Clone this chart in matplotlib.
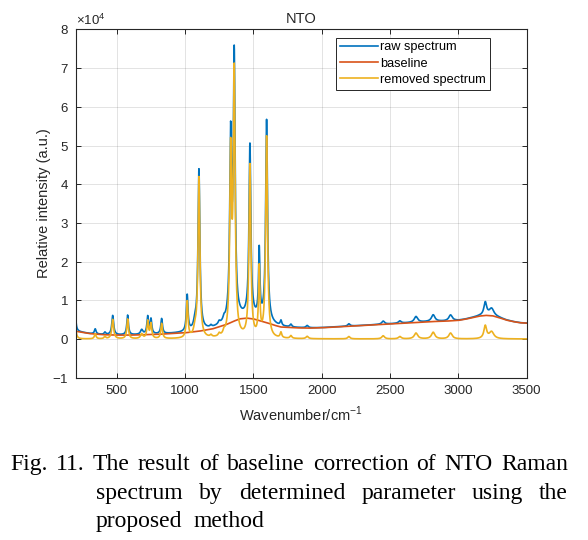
import numpy as np
import matplotlib
matplotlib.use("Agg")
import matplotlib.pyplot as plt
from matplotlib.ticker import ScalarFormatter

# ---------------- data (intensity in a.u.) ----------------
# Raman peaks of the baseline-removed spectrum: centre (cm^-1), height, half width
peak_centers = [195, 343, 414, 471, 580, 683, 727, 751, 829, 1016, 1073, 1102,
                1190, 1250, 1285, 1334, 1360, 1475, 1543, 1597, 1702, 1775,
                1894, 2199, 2450, 2572, 2690, 2816, 2943, 3197, 3243]
peak_heights = [6500, 1300, 600, 5000, 5100, 1200, 4500, 3800, 3900, 9400, 1800, 41500,
                500, 700, 900, 46000, 67000, 44500, 17500, 52000, 1400, 700,
                600, 600, 800, 600, 1500, 1700, 1500, 3300, 1800]
peak_hwhm = [6, 7, 7, 8, 7, 10, 7, 7, 7, 7, 12, 8,
             8, 8, 8, 8, 8, 8, 6, 8, 7, 8,
             10, 10, 12, 12, 15, 15, 15, 12, 20]

# estimated baseline: wavenumber knots and values
baseline_x = [200, 300, 400, 500, 600, 700, 800, 900, 1000, 1100, 1200, 1300, 1350,
              1400, 1450, 1500, 1550, 1600, 1650, 1700, 1800, 1900, 2000, 2100, 2200,
              2300, 2400, 2500, 2600, 2700, 2800, 2900, 3000, 3050, 3100, 3150, 3200,
              3250, 3300, 3350, 3400, 3450, 3500]
baseline_y = [2000, 1400, 1100, 1000, 1000, 1100, 1200, 1400, 1600, 2000, 2600, 3700, 4500,
              5200, 5400, 5200, 4700, 4200, 3600, 3100, 2900, 2800, 2900, 3100, 3300,
              3500, 3700, 3900, 4100, 4300, 4500, 4600, 4800, 5100, 5500, 5900, 6100,
              6000, 5500, 4900, 4500, 4200, 4100]

wavenumber = np.arange(200, 3501, 1.0)
removed = np.zeros_like(wavenumber)
for c, h, g in zip(peak_centers, peak_heights, peak_hwhm):
    removed += h * g**2 / ((wavenumber - c)**2 + g**2)
baseline = np.interp(wavenumber, baseline_x, baseline_y)
raw = removed + baseline

# ---------------- figure ----------------
plt.rcParams['font.family'] = ['Liberation Sans', 'DejaVu Sans']
plt.rcParams['axes.unicode_minus'] = False
plt.rcParams['mathtext.fontset'] = 'custom'
plt.rcParams['mathtext.rm'] = 'Liberation Sans'

fig = plt.figure(figsize=(5.88, 5.40), dpi=100)
ax = fig.add_axes([0.1287, 0.3006, 0.767, 0.6448])

dark = '#262626'
ax.plot(wavenumber, raw, color='#0072BD', lw=1.2, label='raw spectrum')
ax.plot(wavenumber, baseline, color='#D95319', lw=1.2, label='baseline')
ax.plot(wavenumber, removed, color='#EDB120', lw=1.2, label='removed spectrum')

ax.set_xlim(200, 3500)
ax.set_ylim(-10000, 80000)
ax.set_xticks([500, 1000, 1500, 2000, 2500, 3000, 3500])
ax.set_yticks(np.arange(-10000, 80001, 10000))
fmt = ScalarFormatter(useMathText=True)
fmt.set_powerlimits((4, 4))
ax.yaxis.set_major_formatter(fmt)
ax.yaxis.get_offset_text().set_fontsize(9.5)
ax.yaxis.get_offset_text().set_color(dark)

ax.grid(True, color=dark, alpha=0.15, lw=0.6)
ax.set_axisbelow(True)
ax.tick_params(direction='in', top=True, right=True, length=3.5, width=0.7,
               colors=dark, labelsize=9.5, labelcolor=dark, pad=5)
for s in ax.spines.values():
    s.set_color(dark)
    s.set_linewidth(0.8)

ax.set_title('NTO', fontsize=10.5, color=dark, pad=5)
ax.set_xlabel('Wavenumber/cm$^{-1}$', fontsize=10.5, color=dark, labelpad=6)
ax.set_ylabel('Relative intensity (a.u.)', fontsize=10.5, color=dark, labelpad=1)

leg = ax.legend(loc='upper left', bbox_to_anchor=(0.5765, 0.9765), fontsize=9.2,
                frameon=True, fancybox=False, framealpha=1, edgecolor=dark,
                handlelength=3.0, handletextpad=0.2, borderpad=0.3,
                labelspacing=0.32, borderaxespad=0)
leg.get_frame().set_linewidth(0.7)

# ---------------- caption (justified) ----------------
cap_lines = [
    (["Fig.", "11.", "The", "result", "of", "baseline", "correction", "of", "NTO", "Raman"], 10, 568, 470, True),
    (["spectrum", "by", "determined", "parameter", "using", "the"], 96, 568, 499, True),
    (["proposed", "method"], 96, 568, 527, False),
]
W, H = 588.0, 540.0
renderer = fig.canvas.get_renderer()
for words, x0, x1, ybase, justify in cap_lines:
    texts = [fig.text(0, 1 - ybase / H, w, fontsize=17, family='Liberation Serif',
                      color='black', va='baseline', ha='left') for w in words]
    widths = [t.get_window_extent(renderer).width for t in texts]
    if justify and len(words) > 1:
        gap = (x1 - x0 - sum(widths)) / (len(words) - 1)
    else:
        gap = 11.0
    x = x0
    for t, w in zip(texts, widths):
        t.set_x(x / W)
        x += w + gap

fig.savefig('out.png', dpi=100)
